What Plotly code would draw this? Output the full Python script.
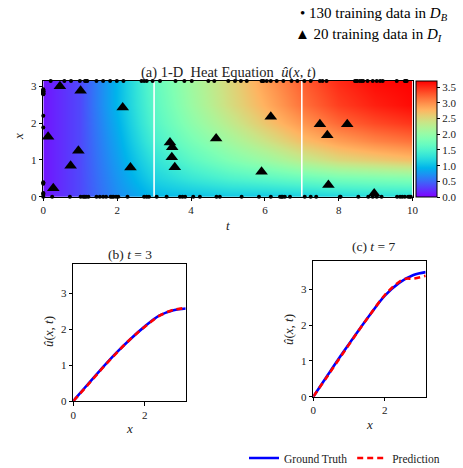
import numpy as np
import plotly.graph_objects as go

# ---------------- data ----------------
t_grid = [0, 1, 2, 3, 4, 5, 6, 7, 8, 9, 10]
x_grid = [0.0, 0.5, 1.0, 1.5, 2.0, 2.5, 3.1416]
u_grid = [
    [0.10, 0.35, 0.70, 0.95, 1.00, 1.05, 1.05, 1.10, 1.15, 1.20, 1.20],
    [0.10, 0.35, 0.75, 1.15, 1.35, 1.50, 1.60, 1.70, 1.80, 1.85, 1.90],
    [0.10, 0.35, 0.80, 1.30, 1.60, 1.85, 2.05, 2.30, 2.50, 2.60, 2.70],
    [0.10, 0.35, 0.85, 1.45, 1.80, 2.10, 2.40, 2.70, 2.90, 3.05, 3.15],
    [0.10, 0.35, 0.90, 1.55, 1.95, 2.30, 2.65, 2.95, 3.20, 3.35, 3.45],
    [0.10, 0.35, 0.95, 1.60, 2.05, 2.45, 2.80, 3.15, 3.40, 3.55, 3.65],
    [0.10, 0.35, 0.95, 1.65, 2.10, 2.50, 2.90, 3.25, 3.50, 3.65, 3.70],
]

# boundary training points D_B
bottom_t = [0.00, 0.24, 0.72, 1.01, 1.08, 1.16, 1.22, 1.44, 1.53, 1.62, 1.70, 1.82,
            1.90, 1.97, 2.03, 2.28, 2.73, 2.80, 2.86, 3.07, 3.34, 3.70, 3.77, 3.84,
            4.06, 4.24, 4.69, 4.78, 5.37, 5.84, 6.16, 6.41, 6.48, 6.54, 6.68, 7.08,
            7.24, 7.39, 8.03, 8.05, 8.53, 8.80, 8.92, 9.03, 9.16, 9.58, 9.66, 9.79,
            9.88, 9.95, 1.12, 1.86, 6.45, 9.72, 9.92]
top_t = [0.20, 0.57, 0.75, 0.99, 1.13, 1.19, 1.44, 1.62, 1.81, 1.99, 2.17, 2.66,
         2.73, 2.80, 2.96, 3.16, 3.58, 3.82, 4.02, 4.47, 4.63, 5.01, 5.19, 5.35,
         5.51, 5.91, 5.96, 6.05, 6.16, 6.32, 6.50, 6.72, 6.88, 7.07, 7.24, 7.49,
         7.56, 7.67, 8.44, 8.50, 8.57, 8.66, 8.78, 8.92, 9.03, 9.12, 9.19, 9.57,
         9.79, 9.84, 1.16, 5.94, 8.47, 8.62, 9.82]
left_x = [0.09, 0.35, 0.39, 1.88, 2.20, 2.78, 2.81, 2.85, 2.88, 2.92,
          2.83, 0.05, 2.90, 0.37, 2.86, 2.79, 0.10, 2.84, 2.87, 2.80]
x_min, x_max = 0.0, 3.1416

# interior training points D_I
interior_t = [0.45, 1.01, 2.15, 0.13, 0.95, 0.74, 0.27, 2.36, 3.43, 3.49,
              3.48, 3.56, 4.68, 5.91, 6.16, 7.49, 7.69, 8.23, 7.72, 8.96]
interior_x = [3.00, 2.88, 2.42, 1.63, 1.25, 0.84, 0.23, 0.79, 1.47, 1.34,
              1.07, 0.80, 1.58, 0.68, 2.17, 1.97, 1.67, 1.97, 0.32, 0.09]

slice_times = [3, 7]

# slices
x_b = [0.0, 0.4, 0.8, 1.2, 1.6, 2.0, 2.4, 2.8, 3.1416]
gt_t3 = [0.0, 0.46, 0.91, 1.34, 1.73, 2.08, 2.38, 2.53, 2.58]
pred_t3 = [0.0, 0.44, 0.90, 1.33, 1.73, 2.07, 2.37, 2.54, 2.59]

x_c = [0.0, 0.4, 0.8, 1.2, 1.6, 2.0, 2.4, 2.8, 3.1416]
gt_t7 = [0.0, 0.60, 1.19, 1.76, 2.31, 2.82, 3.18, 3.40, 3.48]
x_c_pred = [0.0, 0.4, 0.8, 1.2, 1.6, 2.0, 2.3, 2.55, 2.8, 3.1416]
pred_t7 = [0.0, 0.58, 1.17, 1.75, 2.31, 2.84, 3.13, 3.29, 3.30, 3.38]

cb_ticks = [0.0, 0.5, 1.0, 1.5, 2.0, 2.5, 3.0, 3.5]

# --------------- style ---------------
W, H = 463, 468
FONT = "Liberation Serif"


def rainbow(n=21):
    stops = []
    for i in range(n):
        s = i / (n - 1)
        r = min(1, abs(2 * s - 0.5))
        g = np.sin(np.pi * s)
        b = np.cos(np.pi * s / 2)
        stops.append([s, f"rgb({int(r*255)},{int(g*255)},{int(max(b,0)*255)})"])
    return stops


def px_x(p):
    return p / W


def px_y(p):
    return 1 - p / H


fig = go.Figure()

fig.add_trace(go.Heatmap(
    x=t_grid, y=x_grid, z=u_grid, zsmooth="best",
    colorscale=rainbow(), zmin=0, zmax=3.7,
    colorbar=dict(xref="container", yref="container",
                  x=px_x(416), xanchor="left", y=px_y(139), yanchor="middle",
                  len=115.7, lenmode="pixels", thickness=21, thicknessmode="pixels",
                  xpad=0, ypad=0,
                  outlinecolor="black", outlinewidth=1,
                  tickvals=cb_ticks, tickformat=".1f", ticks="outside", ticklen=3,
                  tickcolor="black",
                  tickfont=dict(size=11, family=FONT, color="#222")),
    xaxis="x", yaxis="y", showlegend=False, hoverinfo="skip",
))

for ts in slice_times:
    fig.add_trace(go.Scatter(x=[ts, ts], y=[x_min, x_max], mode="lines",
                             line=dict(color="white", width=1.6),
                             xaxis="x", yaxis="y", showlegend=False))

bnd_t = list(bottom_t) + list(top_t) + [0.0] * len(left_x)
bnd_x = [x_min] * len(bottom_t) + [x_max] * len(top_t) + list(left_x)
fig.add_trace(go.Scatter(x=bnd_t, y=bnd_x, mode="markers",
                         marker=dict(color="black", size=4),
                         cliponaxis=False, xaxis="x", yaxis="y", showlegend=False))
fig.add_trace(go.Scatter(x=interior_t, y=interior_x, mode="markers",
                         marker=dict(color="black", size=11, symbol="triangle-up"),
                         cliponaxis=False, xaxis="x", yaxis="y", showlegend=False))

# slice plots
fig.add_trace(go.Scatter(x=x_b, y=gt_t3, mode="lines", line=dict(color="#0000ff", width=2.6, shape="spline"),
                         name="Ground Truth", xaxis="x2", yaxis="y2", showlegend=True))
fig.add_trace(go.Scatter(x=x_b, y=pred_t3, mode="lines",
                         line=dict(color="#ff0000", width=2.6, dash="6px,4px", shape="spline"),
                         name="Prediction", xaxis="x2", yaxis="y2", showlegend=True))
fig.add_trace(go.Scatter(x=x_c, y=gt_t7, mode="lines", line=dict(color="#0000ff", width=2.6, shape="spline"),
                         name="Ground Truth", xaxis="x3", yaxis="y3", showlegend=False))
fig.add_trace(go.Scatter(x=x_c_pred, y=pred_t7, mode="lines",
                         line=dict(color="#ff0000", width=2.6, dash="6px,4px", shape="spline"),
                         name="Prediction", xaxis="x3", yaxis="y3", showlegend=False))

axis_common = dict(showline=True, linecolor="black", linewidth=1, mirror=True,
                   ticks="outside", ticklen=3.5, tickcolor="black", showgrid=False, zeroline=False,
                   automargin=False,
                   tickfont=dict(size=11, family=FONT, color="#222"))

fig.update_layout(
    template="none",
    width=W, height=H, margin=dict(l=0, r=0, t=0, b=0, pad=0, autoexpand=False),
    paper_bgcolor="white", plot_bgcolor="white",
    font=dict(family=FONT, color="black"),
    xaxis=dict(domain=[px_x(43.3), px_x(412.6)], range=[0, 10], tickvals=[0, 2, 4, 6, 8, 10],
               anchor="y", **axis_common),
    yaxis=dict(domain=[px_y(196.7), px_y(81)], range=[x_min, x_max], tickvals=[0, 1, 2, 3],
               anchor="x", **axis_common),
    xaxis2=dict(domain=[px_x(73.3), px_x(185.7)], range=[0, 3.1416], tickvals=[0, 2],
                anchor="y2", **axis_common),
    yaxis2=dict(domain=[px_y(401), px_y(264.3)], range=[0, 3.81], tickvals=[0, 1, 2, 3],
                anchor="x2", **axis_common),
    xaxis3=dict(domain=[px_x(313.3), px_x(425.7)], range=[0, 3.1416], tickvals=[0, 2],
                anchor="y3", **axis_common),
    yaxis3=dict(domain=[px_y(396.7), px_y(261)], range=[0, 3.79], tickvals=[0, 1, 2, 3],
                anchor="x3", **axis_common),
    legend=dict(orientation="h", x=px_x(244), xanchor="left", y=px_y(458), yanchor="middle",
                font=dict(size=11.5, family=FONT, color="#222"), bgcolor="rgba(0,0,0,0)",
                itemwidth=30, tracegroupgap=0),
)

ann = []


def add_ann(text, x, y, size=12, angle=0, xanchor="center", family=FONT, color="#222"):
    ann.append(dict(text=text, x=px_x(x), y=px_y(y), xref="paper", yref="paper",
                    showarrow=False, xanchor=xanchor, yanchor="middle", textangle=angle,
                    font=dict(size=size, family=family, color=color)))


add_ann("(a) 1-D  Heat Equation  <i>û</i>(<i>x</i>, <i>t</i>)", 228, 72, size=14.5)
add_ann("<i>t</i>", 228, 225, size=13)
add_ann("<i>x</i>", 18, 137, size=13, angle=-90)
add_ann("(b) <i>t</i> = 3", 129.5, 255, size=13.5)
add_ann("<i>û</i>(<i>x</i>, <i>t</i>)", 48, 332, size=13, angle=-90)
add_ann("<i>x</i>", 129.5, 428, size=13)
add_ann("(c) <i>t</i> = 7", 373, 246, size=13.5)
add_ann("<i>û</i>(<i>x</i>, <i>t</i>)", 288, 330, size=13, angle=-90)
add_ann("<i>x</i>", 369.5, 424, size=13)
add_ann("• 130 training data in <i>D</i><sub><i>B</i></sub>", 298, 14, size=15, xanchor="left", color="black")
add_ann("▲ 20 training data in <i>D</i><sub><i>I</i></sub>", 293, 35, size=15, xanchor="left", color="black")
fig.update_layout(annotations=ann)

fig.write_html("out.html", config={"displayModeBar": False},
               post_script="document.body.style.margin='0px';document.body.style.overflow='hidden';")
